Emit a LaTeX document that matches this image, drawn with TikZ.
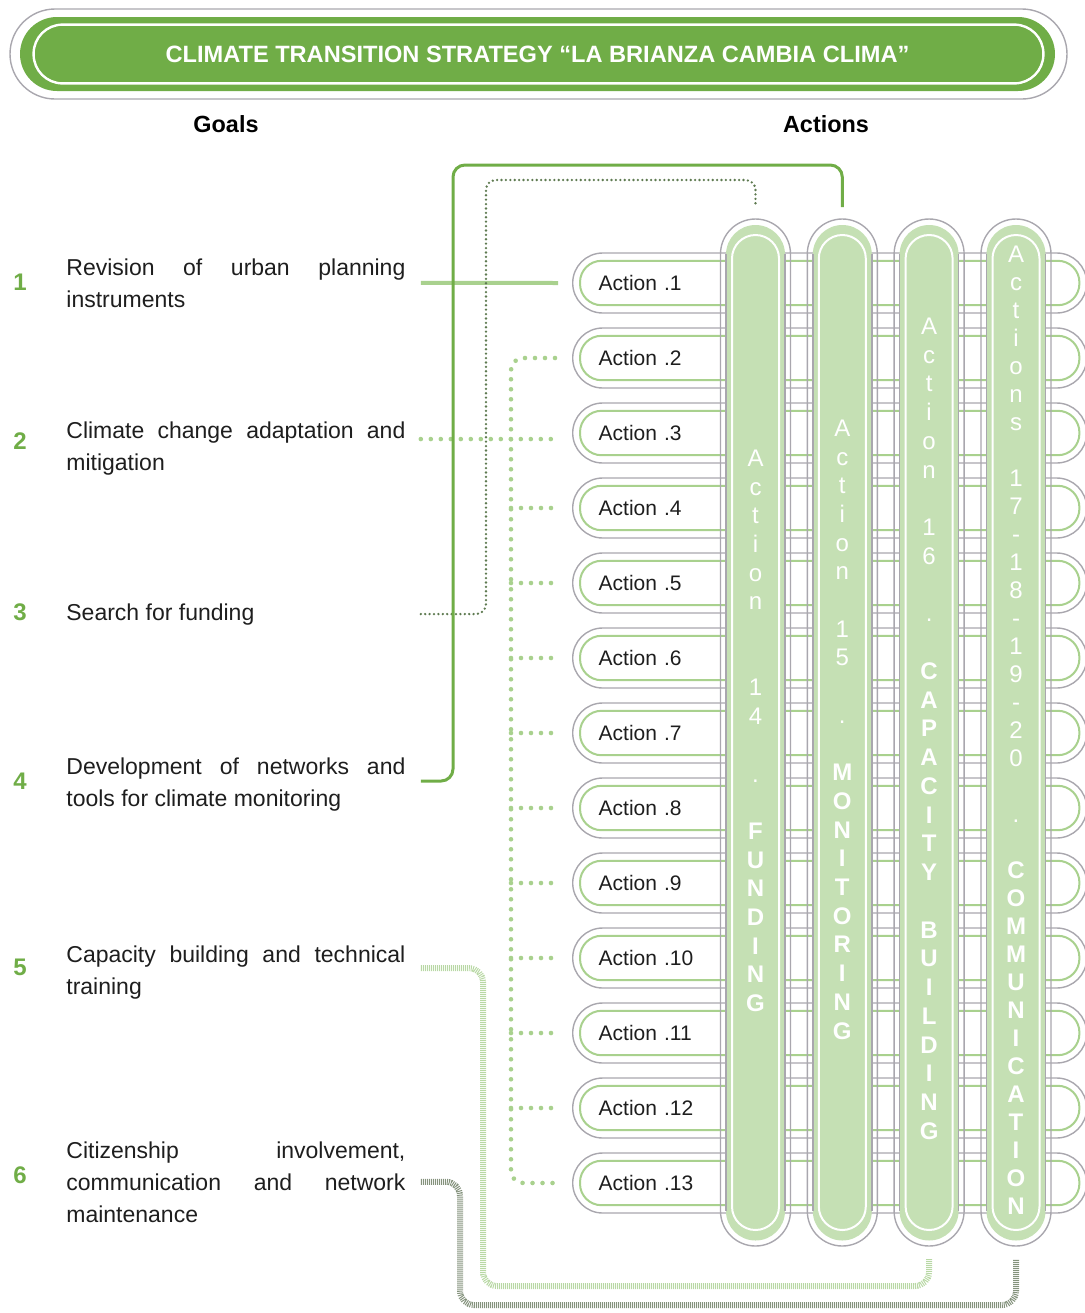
\documentclass[tikz,border=0pt]{standalone}
\usepackage{fontspec}
\setmainfont{Liberation Sans}
\usepackage{xcolor}
\usepackage{tikz}
\usetikzlibrary{calc}
\definecolor{rimgray}{HTML}{A9A7AE}
\definecolor{palegreen}{HTML}{A9D18E}
\definecolor{barfillgreen}{HTML}{C5E0B4}
\definecolor{leafgreen}{HTML}{70AD47}
\definecolor{mossgray}{HTML}{5E7A50}
\definecolor{hatchpale}{HTML}{B8D8A4}
\definecolor{hatchdark}{HTML}{84927C}
\definecolor{inkblack}{HTML}{1E1E1E}

\begin{document}
\begin{tikzpicture}[x=0.5pt, y=-0.5pt, font=\fontsize{11.5pt}{16pt}\selectfont,
  rim/.style={draw=rimgray, line width=0.7pt},
  headbar/.style={fill=leafgreen, rounded corners=18.5pt, minimum width=517.5pt, minimum height=37pt, text=white, font=\fontsize{11.8pt}{14pt}\selectfont\bfseries},
  coltitle/.style={font=\fontsize{11.7pt}{14pt}\selectfont\bfseries},
  goalnum/.style={text=leafgreen, font=\fontsize{12pt}{14pt}\selectfont\bfseries},
  goaltext/.style={anchor=base west, text width=169.5pt, align=justify, inner sep=0pt, text=inkblack},
  actbox/.style={rim, fill=white, rounded corners=15pt, minimum height=30pt, text width=231pt, inner xsep=13pt, inner ysep=0pt, align=left, anchor=west, text=inkblack, font=\fontsize{10.5pt}{12pt}\selectfont},
  actinner/.style={draw=palegreen, line width=1pt, rounded corners=10.75pt},
  barrim/.style={rim, rounded corners=17.5pt, minimum width=35pt, minimum height=513.5pt, inner sep=0pt, outer sep=0pt},
  bartext/.style={text=white, align=center, anchor=north, inner sep=0pt},
  lineone/.style={draw=palegreen, line width=2pt},
  linefour/.style={draw=leafgreen, line width=1.5pt, rounded corners=6pt},
  dotbig/.style={draw=palegreen, line width=2.3pt, line cap=round, dash pattern=on 0pt off 5pt},
  dotfine/.style={draw=mossgray, line width=1.3pt, line cap=round, dash pattern=on 0pt off 2.2pt, rounded corners=5pt},
  hatchfive/.style={draw=hatchpale, line width=3pt, dash pattern=on 0.5pt off 0.5pt, rounded corners=7pt},
  hatchsix/.style={draw=hatchdark, line width=3pt, dash pattern=on 0.5pt off 0.5pt, rounded corners=7pt}]
  \useasboundingbox (0,0) rectangle (1084,1313);
  % title bar
  \draw[rim, rounded corners=22.5pt] (10,9) rectangle (1067,99);
  \node[headbar] (title) at (537.5,54) {CLIMATE TRANSITION STRATEGY “LA BRIANZA CAMBIA CLIMA”};
  \draw[white, line width=1.2pt, rounded corners=14.5pt] ([shift={(7pt,-4pt)}]title.north west) rectangle ([shift={(-6pt,4pt)}]title.south east);
  \node[coltitle] (goals) at (226,124) {Goals};
  \node[coltitle] (actions) at (826,124) {Actions};
  % goals
  \node[goalnum] (n1) at (20,282) {1};
  \node[goalnum] (n2) at (20,441) {2};
  \node[goalnum] (n3) at (20,612) {3};
  \node[goalnum] (n4) at (20,781) {4};
  \node[goalnum] (n5) at (20,967) {5};
  \node[goalnum] (n6) at (20,1175) {6};
  \node[goaltext] (g1) at (66,275) {Revision of urban planning\linebreak instruments};
  \node[goaltext] (g2) at (66,438) {Climate change adaptation and\linebreak mitigation};
  \node[goaltext] (g3) at (66,620) {Search for funding};
  \node[goaltext] (g4) at (66,774) {Development of networks and\linebreak tools for climate monitoring};
  \node[goaltext] (g5) at (66,962) {Capacity building and technical\linebreak training};
  \node[goaltext] (g6) at (66,1158) {Citizenship involvement,\linebreak communication and network\linebreak maintenance};
  % action rows
  \foreach \k in {1,...,13} {
    \node[actbox] (a\k) at (572,{208+75*\k}) {Action .\k};
    \draw[actinner] ([shift={(4pt,-4.25pt)}]a\k.north west) rectangle ([shift={(-4pt,4.25pt)}]a\k.south east);
  }
  % cross bars
  \foreach \nm/\xx in {14/755.5,15/842.3,16/929.1,17/1016} {
    \node[barrim] (bar\nm) at (\xx,732.5) {};
    \fill[barfillgreen, rounded corners=14.75pt] ([shift={(2.75pt,-3pt)}]bar\nm.north west) rectangle ([shift={(-2.75pt,2.75pt)}]bar\nm.south east);
    \draw[rim] ([shift={(2.75pt,-17.5pt)}]bar\nm.north west) -- ([shift={(2.75pt,17.5pt)}]bar\nm.south west);
    \draw[rim] ([shift={(-2.75pt,-17.5pt)}]bar\nm.north east) -- ([shift={(-2.75pt,17.5pt)}]bar\nm.south east);
    \draw[white, line width=1pt, rounded corners=11.75pt] ([shift={(5.75pt,-8pt)}]bar\nm.north west) rectangle ([shift={(-5.75pt,8pt)}]bar\nm.south east);
  }
  \node[bartext, font=\fontsize{12pt}{14.35pt}\selectfont] (t14) at (755.5,449.4)
    {A\\c\\t\\i\\o\\n\\~\\~\\1\\4\\~\\.\\~\\\textbf{F}\\\textbf{U}\\\textbf{N}\\\textbf{D}\\\textbf{I}\\\textbf{N}\\\textbf{G}};
  \node[bartext, font=\fontsize{12pt}{14.35pt}\selectfont] (t15) at (842.3,419.4)
    {A\\c\\t\\i\\o\\n\\~\\1\\5\\~\\.\\~\\\textbf{M}\\\textbf{O}\\\textbf{N}\\\textbf{I}\\\textbf{T}\\\textbf{O}\\\textbf{R}\\\textbf{I}\\\textbf{N}\\\textbf{G}};
  \node[bartext, font=\fontsize{12pt}{14.375pt}\selectfont] (t16) at (929.1,317.4)
    {A\\c\\t\\i\\o\\n\\~\\1\\6\\~\\.\\~\\\textbf{C}\\\textbf{A}\\\textbf{P}\\\textbf{A}\\\textbf{C}\\\textbf{I}\\\textbf{T}\\\textbf{Y}\\~\\\textbf{B}\\\textbf{U}\\\textbf{I}\\\textbf{L}\\\textbf{D}\\\textbf{I}\\\textbf{N}\\\textbf{G}};
  \node[bartext, font=\fontsize{12pt}{14pt}\selectfont] (t17) at (1016,245.4)
    {A\\c\\t\\i\\o\\n\\s\\~\\1\\7\\-\\1\\8\\-\\1\\9\\-\\2\\0\\~\\.\\~\\\textbf{C}\\\textbf{O}\\\textbf{M}\\\textbf{M}\\\textbf{U}\\\textbf{N}\\\textbf{I}\\\textbf{C}\\\textbf{A}\\\textbf{T}\\\textbf{I}\\\textbf{O}\\\textbf{N}};
  % goal links
  \draw[lineone] ([xshift=7.5pt]g1.east) -- ([xshift=-7pt]a1.west);
  \draw[dotbig] ([xshift=7.5pt,yshift=4.5pt]g2.east) -- ++(135,0);
  \coordinate (tk) at (511,0);
  \draw[dotbig, rounded corners=6pt] ([xshift=-8.5pt]a2.west) -- (tk |- a2.west) -- (tk |- a13.west) -- ([xshift=-8.5pt]a13.west);
  \foreach \k in {4,...,12}
    \draw[dotbig] (tk |- a\k.west) -- ([xshift=-8.5pt]a\k.west);
  \draw[dotfine] ([xshift=7.5pt]g3.east) -| (486,180) -| ([yshift=6pt]bar14.north);
  \draw[linefour] ([xshift=7.5pt,yshift=1.5pt]g4.east) -| (453,165) -| ([yshift=6pt]bar15.north);
  \draw[hatchfive] ([xshift=7.5pt,yshift=2pt]g5.east) -| (483,1286) -| ([yshift=-6.5pt]bar16.south);
  \draw[hatchsix] ([xshift=7.5pt]g6.east) -| (460,1305) -| ([yshift=-6.5pt]bar17.south);
\end{tikzpicture}
\end{document}
